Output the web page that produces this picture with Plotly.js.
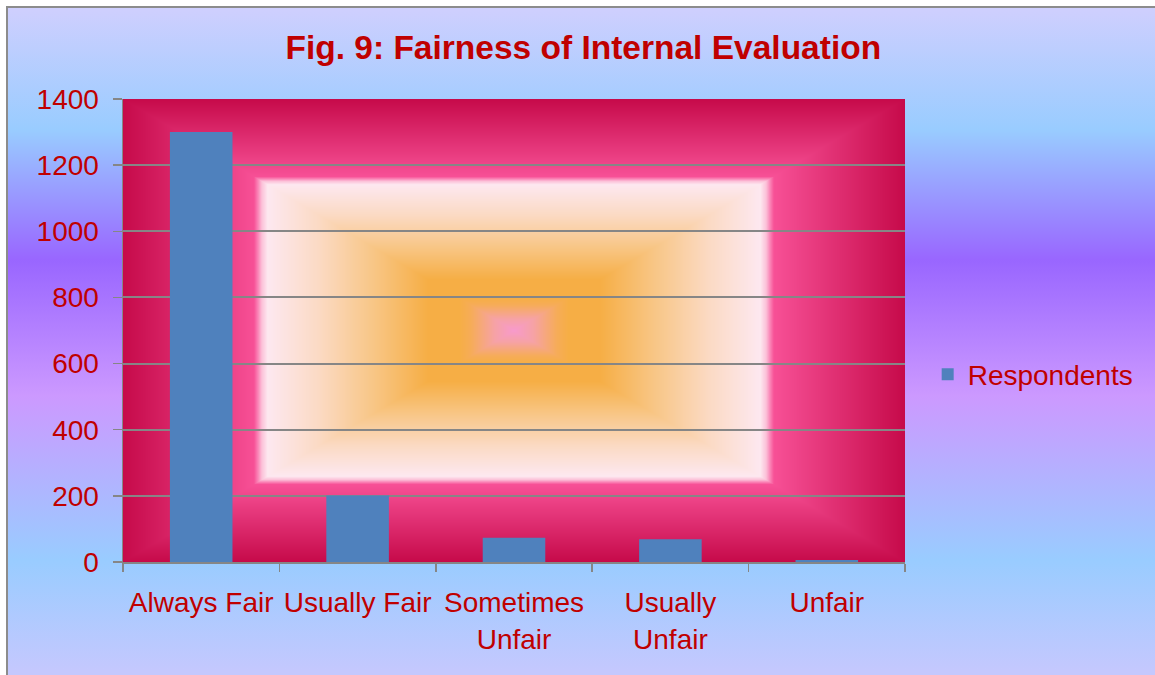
<!DOCTYPE html>
<html>
<head>
<meta charset="utf-8">
<script src="https://cdn.plot.ly/plotly-3.0.1.min.js"></script>
<style>
  html, body { margin: 0; padding: 0; width: 1155px; height: 675px; overflow: hidden; background: #ffffff; }
  #frame {
    position: absolute; left: 6px; top: 6px; width: 1170px; height: 690px;
    border: 2px solid #8c8c8c;
    background: linear-gradient(to bottom, #cfcffe 0px, #99ccff 122px, #9966ff 252px, #cc99ff 388px, #99ccff 552px, #c4c8fe 662px);
  }
  #chart { position: absolute; left: 0; top: 0; width: 1155px; height: 675px; }
</style>
</head>
<body>
<div id="frame"></div>
<div id="chart"></div>
<script>
// ---- data ----
const categories = ["Always Fair", "Usually Fair", "Sometimes<br>Unfair", "Usually<br>Unfair", "Unfair"];
const respondents = [1300, 201, 73, 69, 6];
const seriesName = "Respondents";
const titleText = "Fig. 9: Fairness of Internal Evaluation";

// ---- rectangular gradient background for the plot area ----
function rectGradient(w, h) {
  const stops = [
    [0.00, [247,154,204]],
    [0.05, [246,162,165]],
    [0.11, [246,172,88]],
    [0.14, [246,174,69]],
    [0.22, [246,174,69]],
    [0.36, [248,198,134]],
    [0.50, [251,218,196]],
    [0.63, [253,232,240]],
    [0.645,[252,192,216]],
    [0.655,[250,132,182]],
    [0.665,[247,80,150]],
    [1.00, [198,10,74]]
  ];
  const c = document.createElement('canvas');
  c.width = w; c.height = h;
  const ctx = c.getContext('2d');
  const img = ctx.createImageData(w, h);
  const hw = w / 2, hh = h / 2;
  for (let y = 0; y < h; y++) {
    const dy = Math.abs(y + 0.5 - hh) / hh;
    for (let x = 0; x < w; x++) {
      const dx = Math.abs(x + 0.5 - hw) / hw;
      const t = Math.max(dx, dy);
      let k = 0;
      while (k < stops.length - 2 && t > stops[k + 1][0]) k++;
      const a = stops[k], b = stops[k + 1];
      let f = (t - a[0]) / (b[0] - a[0]);
      f = Math.max(0, Math.min(1, f));
      const i = (y * w + x) * 4;
      img.data[i]     = Math.round(a[1][0] + (b[1][0] - a[1][0]) * f);
      img.data[i + 1] = Math.round(a[1][1] + (b[1][1] - a[1][1]) * f);
      img.data[i + 2] = Math.round(a[1][2] + (b[1][2] - a[1][2]) * f);
      img.data[i + 3] = 255;
    }
  }
  ctx.putImageData(img, 0, 0);
  return c.toDataURL('image/png');
}

const FONT = "Liberation Sans, Arial, sans-serif";
const RED = "#c00000";
const GRAY = "#868686";

const trace = {
  type: "bar",
  x: categories,
  y: respondents,
  name: seriesName,
  marker: { color: "#4f81bd" },
  showlegend: true,
  hoverinfo: "x+y"
};

const layout = {
  width: 1155, height: 675,
  margin: { l: 123, r: 250, t: 99, b: 113, pad: 0 },
  paper_bgcolor: "rgba(0,0,0,0)",
  plot_bgcolor: "rgba(0,0,0,0)",
  bargap: 0.6,
  title: {
    text: "<b>" + titleText + "</b>",
    font: { family: FONT, size: 33.5, color: RED },
    x: 0.505, xanchor: "center",
    y: 0.93, yanchor: "middle"
  },
  xaxis: {
    type: "category",
    tickson: "boundaries",
    tickangle: 0,
    ticks: "outside", ticklen: 8, tickwidth: 1.5, tickcolor: GRAY,
    showline: true, linecolor: GRAY, linewidth: 1.5,
    showgrid: false, zeroline: false,
    tickfont: { family: FONT, size: 28, color: RED },
    ticklabelstandoff: 15,
    fixedrange: true
  },
  yaxis: {
    range: [0, 1400], dtick: 200, tick0: 0,
    ticks: "outside", ticklen: 9, tickwidth: 1.5, tickcolor: GRAY,
    showline: true, linecolor: GRAY, linewidth: 1.5,
    showgrid: true, gridcolor: GRAY, gridwidth: 2,
    zeroline: false,
    tickfont: { family: FONT, size: 28, color: RED },
    ticklabelstandoff: 8,
    fixedrange: true
  },
  legend: {
    x: 1.029, xanchor: "left",
    y: 0.405, yanchor: "middle",
    bgcolor: "rgba(0,0,0,0)",
    font: { family: FONT, size: 28, color: RED }
  },
  images: [{
    source: rectGradient(782, 463),
    xref: "paper", yref: "paper",
    x: 0, y: 1, sizex: 1, sizey: 1,
    xanchor: "left", yanchor: "top",
    sizing: "stretch", layer: "below"
  }],
  showlegend: true
};

Plotly.newPlot("chart", [trace], layout, { displayModeBar: false, staticPlot: true });
</script>
</body>
</html>
